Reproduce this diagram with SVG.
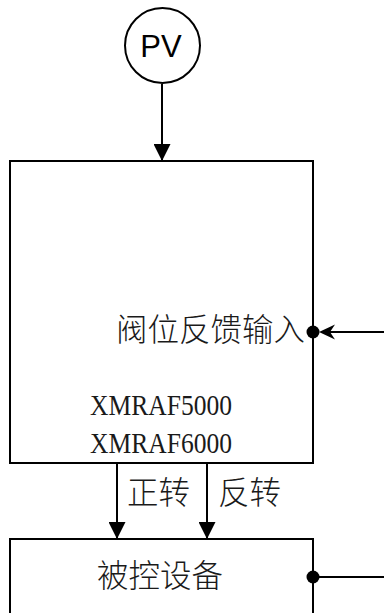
<svg xmlns="http://www.w3.org/2000/svg" width="384" height="613" viewBox="0 0 384 613">
<style>
.ln{stroke:#000;stroke-width:2;fill:none}
.bx{stroke:#000;stroke-width:2;fill:#fff}
.cn{font-family:"Noto Sans CJK SC","Noto Sans CJK JP",sans-serif;font-size:31.5px;fill:#1a1a1a;font-weight:300}
.lat{font-family:"Liberation Serif",serif;font-size:30px;fill:#1a1a1a}
.pv{font-family:"Liberation Sans",Arial,sans-serif;font-size:31px;fill:#000}
</style>
<defs>
<marker id="ah" viewBox="0 0 17 17" refX="17" refY="8.5" markerWidth="17" markerHeight="17" markerUnits="userSpaceOnUse" orient="auto">
<path d="M0,0 L17,8.5 L0,17 Z" fill="#000"/>
</marker>
</defs>
<g id="pv">
<circle class="bx" cx="162.5" cy="45.5" r="37.5"/>
<text class="pv" x="161" y="56.5" text-anchor="middle">PV</text>
</g>
<g id="controller">
<rect class="bx" x="10" y="161" width="303" height="302"/>
<text class="cn" x="116" y="341">阀位反馈输入</text>
<text class="lat" x="90" y="415" textLength="142" lengthAdjust="spacingAndGlyphs">XMRAF5000</text>
<text class="lat" x="90" y="453" textLength="142" lengthAdjust="spacingAndGlyphs">XMRAF6000</text>
</g>
<g id="device">
<rect class="bx" x="10" y="539" width="303" height="90"/>
<text class="cn" x="97" y="587">被控设备</text>
</g>
<g id="connectors">
<line class="ln" x1="162" y1="84" x2="162" y2="161" marker-end="url(#ah)"/>
<line class="ln" x1="117" y1="463" x2="117" y2="539" marker-end="url(#ah)"/>
<line class="ln" x1="207" y1="463" x2="207" y2="539" marker-end="url(#ah)"/>
<line class="ln" x1="384" y1="332" x2="330" y2="332"/>
<path d="M319,332 L335,324.5 L330,332 L335,339.5 Z" fill="#000"/>
<circle cx="313" cy="332" r="6.5" fill="#000"/>
<line class="ln" x1="313" y1="577" x2="384" y2="577"/>
<circle cx="313" cy="577" r="6.5" fill="#000"/>
<text class="cn" x="127" y="504">正转</text>
<text class="cn" x="218" y="504">反转</text>
</g>
</svg>
